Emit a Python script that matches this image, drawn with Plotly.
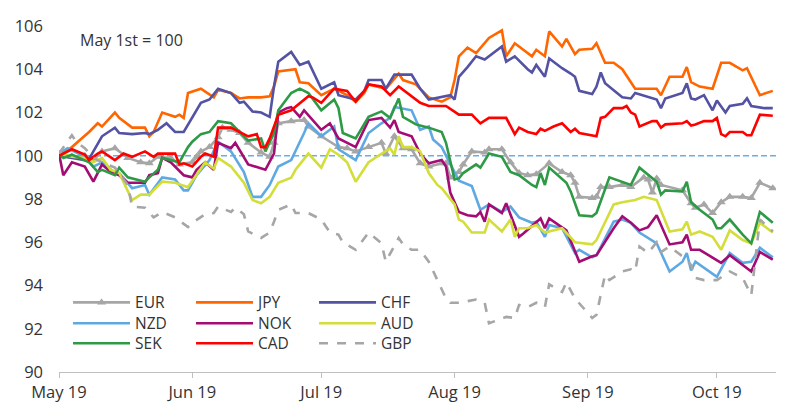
import pandas as pd
import plotly.graph_objects as go

# days since 1 May 2019, index level (May 1st = 100)
START = pd.Timestamp("2019-05-01")

EUR = [(0, 100.1), (3, 99.95), (6, 100.0), (8, 99.8), (10, 100.2), (13, 100.35), (16, 99.9), (19, 99.7),
       (21, 99.65), (23, 99.95), (26, 99.9), (28, 99.6), (31, 99.7), (32, 99.95), (33, 100.2), (35, 100.4),
       (37, 100.85), (38, 101.3), (40, 101.2), (42, 101.05), (44, 100.6), (47, 100.15), (49, 99.95),
       (50, 100.6), (51, 101.5), (54, 101.6), (57, 101.65), (58, 101.35), (61, 100.9), (65, 100.4),
       (67, 100.35), (69, 100.2), (72, 100.4), (75, 100.6), (76, 100.1), (78, 100.9), (80, 100.35),
       (82, 100.3), (84, 99.65), (86, 99.5), (89, 99.65), (90, 99.65), (91, 99.0), (93, 99.25), (94, 99.6),
       (96, 100.2), (99, 100.15), (100, 100.3), (103, 100.3), (105, 99.7), (107, 99.2), (109, 99.1),
       (111, 99.15), (114, 99.65), (117, 99.25), (119, 99.1), (120, 98.75), (121, 98.1), (124, 98.05),
       (125, 98.1), (126, 98.55), (128, 98.55), (131, 98.65), (133, 98.55), (136, 99.0), (137, 98.9),
       (138, 98.3), (139, 98.95), (140, 98.65), (145, 98.4), (147, 97.8), (148, 97.6), (150, 97.75),
       (152, 97.35), (154, 97.85), (156, 98.1), (159, 98.1), (161, 98.05), (163, 98.75), (166, 98.5)]

JPY = [(0, 100.0), (3, 100.4), (5, 100.75), (7, 101.1), (9, 101.5), (10, 101.35), (13, 102.0), (14, 101.75),
       (17, 101.3), (20, 101.3), (21, 100.9), (22, 101.1), (24, 102.0), (27, 101.8), (28, 101.9), (29, 101.75),
       (30, 102.9), (33, 103.1), (36, 102.7), (37, 103.05), (40, 102.9), (42, 102.65), (44, 102.7),
       (47, 102.7), (49, 102.75), (50, 103.2), (51, 103.9), (55, 104.0), (56, 103.4), (58, 103.35),
       (61, 102.8), (64, 103.1), (67, 102.8), (69, 102.5), (71, 102.9), (72, 103.3), (76, 103.1), (79, 103.8),
       (80, 103.5), (83, 103.3), (86, 102.7), (89, 102.5), (91, 102.7), (92, 103.5), (93, 104.6), (95, 105.0),
       (97, 104.75), (100, 105.45), (103, 105.8), (104, 104.6), (106, 105.2), (109, 104.75), (110, 104.6),
       (111, 104.9), (113, 104.6), (114, 105.75), (117, 105.05), (118, 105.4), (120, 104.7), (121, 104.9),
       (124, 104.95), (125, 105.2), (127, 104.3), (129, 104.3), (131, 104.0), (134, 103.1), (139, 103.1),
       (140, 102.8), (142, 103.65), (145, 103.65), (146, 104.1), (147, 103.4), (149, 103.2), (152, 103.1),
       (154, 104.3), (156, 104.3), (159, 103.95), (160, 104.05), (163, 102.8), (166, 103.0)]

CHF = [(0, 100.0), (3, 99.9), (6, 99.8), (7, 99.85), (10, 100.9), (13, 101.3), (14, 101.05), (17, 101.0),
       (20, 101.05), (21, 101.0), (23, 101.2), (25, 101.5), (27, 101.1), (29, 101.1), (31, 101.8), (33, 102.45),
       (35, 102.6), (37, 103.1), (40, 102.9), (42, 102.45), (43, 102.5), (45, 102.05), (47, 102.0),
       (48, 101.9), (49, 101.8), (50, 103.2), (51, 104.35), (54, 104.8), (56, 104.2), (58, 104.35),
       (61, 103.1), (64, 103.4), (65, 102.8), (69, 102.6), (71, 103.0), (72, 103.5), (75, 103.5), (76, 103.1),
       (78, 103.75), (82, 103.75), (84, 103.1), (86, 102.6), (89, 102.7), (91, 102.8), (92, 102.6),
       (93, 103.65), (95, 104.1), (97, 104.6), (99, 104.45), (103, 105.05), (104, 104.35), (106, 104.6),
       (109, 104.0), (110, 103.85), (111, 104.2), (113, 103.65), (114, 104.5), (117, 104.05), (119, 103.8),
       (120, 103.65), (121, 103.0), (124, 102.85), (125, 103.2), (126, 103.85), (127, 103.35), (131, 102.7),
       (133, 102.65), (134, 102.9), (139, 102.6), (140, 102.2), (141, 102.65), (145, 102.9), (146, 103.35),
       (147, 102.65), (148, 102.6), (150, 102.8), (152, 102.1), (153, 102.55), (155, 102.0), (156, 102.3),
       (159, 102.4), (160, 102.65), (161, 102.3), (164, 102.2), (166, 102.2)]

NZD = [(0, 100.1), (2, 100.35), (6, 99.95), (8, 99.5), (10, 99.7), (13, 99.2), (14, 99.2), (17, 98.5),
       (20, 98.65), (21, 98.2), (24, 99.0), (27, 98.9), (29, 98.4), (30, 98.4), (32, 99.1), (35, 99.8),
       (37, 100.65), (40, 100.2), (43, 99.25), (45, 98.1), (47, 98.1), (49, 98.65), (51, 99.5), (54, 99.8),
       (57, 101.05), (58, 101.5), (61, 100.9), (64, 101.35), (65, 100.3), (69, 99.8), (72, 101.05),
       (75, 101.5), (77, 101.75), (78, 102.25), (82, 102.1), (84, 101.2), (86, 101.35), (87, 100.75),
       (89, 100.4), (92, 99.2), (93, 98.85), (96, 98.6), (98, 97.5), (100, 97.75), (103, 97.4), (105, 97.65),
       (107, 97.15), (110, 96.9), (111, 96.95), (113, 96.25), (114, 96.8), (117, 96.65), (120, 95.5),
       (121, 95.65), (124, 95.3), (125, 95.4), (129, 96.95), (131, 97.05), (133, 96.9), (135, 96.45),
       (139, 95.95), (142, 94.65), (145, 95.1), (146, 95.5), (147, 94.7), (148, 95.1), (153, 94.4),
       (156, 95.5), (159, 95.05), (161, 95.1), (163, 95.75), (166, 95.3)]

NOK = [(0, 100.1), (1, 99.1), (3, 99.7), (6, 99.5), (8, 98.8), (10, 99.6), (12, 99.25), (14, 99.1),
       (16, 98.75), (20, 98.75), (21, 99.1), (23, 99.2), (24, 99.9), (26, 99.7), (29, 99.1), (31, 99.0),
       (32, 99.35), (34, 99.7), (36, 99.35), (37, 100.6), (40, 100.35), (41, 100.6), (44, 99.6), (48, 99.35),
       (50, 100.1), (51, 102.0), (53, 102.2), (54, 102.25), (56, 101.8), (57, 102.1), (61, 101.2),
       (63, 101.5), (65, 100.8), (69, 100.4), (72, 101.65), (75, 101.75), (77, 101.3), (78, 101.65),
       (79, 101.1), (82, 100.9), (84, 100.1), (86, 99.65), (89, 99.8), (90, 99.5), (91, 98.3), (92, 97.85),
       (93, 97.4), (95, 97.25), (97, 97.2), (98, 97.4), (99, 96.95), (100, 97.75), (103, 97.35), (104, 97.8),
       (107, 96.25), (108, 96.4), (110, 96.75), (111, 96.9), (112, 97.1), (113, 96.65), (114, 97.1),
       (118, 96.55), (121, 95.1), (124, 95.35), (125, 95.4), (129, 96.65), (131, 97.2), (133, 96.9),
       (135, 96.55), (137, 96.7), (139, 97.25), (142, 95.9), (145, 96.0), (146, 96.35), (147, 95.65),
       (149, 95.65), (152, 95.3), (154, 95.05), (156, 95.4), (159, 94.95), (161, 94.65), (163, 95.55),
       (166, 95.2)]

AUD = [(0, 100.1), (3, 99.95), (6, 99.9), (8, 99.7), (10, 99.9), (12, 99.35), (14, 99.2), (17, 97.95),
       (19, 98.2), (21, 98.2), (24, 98.8), (27, 98.75), (30, 98.55), (32, 99.1), (34, 99.7), (36, 99.4),
       (37, 99.9), (40, 99.5), (43, 98.75), (45, 97.95), (47, 97.8), (49, 98.1), (51, 98.75), (54, 98.98),
       (55, 99.35), (58, 100.1), (61, 99.45), (63, 100.3), (65, 100.05), (67, 99.7), (69, 98.8), (72, 99.7),
       (75, 100.1), (77, 100.35), (78, 100.05), (79, 100.9), (80, 100.4), (82, 100.4), (84, 100.2),
       (86, 99.2), (88, 98.65), (89, 98.5), (92, 97.75), (93, 97.05), (94, 96.95), (96, 96.45), (99, 96.45),
       (100, 97.05), (103, 96.5), (105, 97.05), (106, 96.25), (107, 96.65), (109, 96.65), (111, 96.8),
       (113, 96.45), (117, 96.65), (120, 96.0), (124, 95.9), (125, 96.1), (129, 97.75), (131, 97.85),
       (134, 97.95), (136, 98.1), (139, 97.95), (142, 96.5), (145, 96.6), (146, 96.95), (147, 96.35),
       (149, 96.5), (152, 96.25), (154, 95.65), (156, 96.55), (159, 96.1), (161, 95.95), (163, 96.9),
       (166, 96.45)]

SEK = [(0, 100.1), (1, 99.9), (3, 100.05), (6, 99.8), (7, 99.7), (9, 99.25), (10, 99.35), (13, 99.1),
       (14, 99.45), (16, 99.0), (20, 98.8), (21, 99.0), (23, 99.35), (24, 99.9), (26, 99.8), (28, 99.7),
       (30, 100.4), (31, 100.65), (33, 101.0), (35, 101.1), (37, 101.6), (40, 101.5), (42, 101.1),
       (43, 100.9), (44, 100.7), (47, 100.8), (48, 100.2), (50, 101.05), (51, 102.1), (54, 102.9),
       (56, 103.1), (58, 102.9), (61, 102.1), (64, 102.6), (65, 102.2), (66, 101.05), (69, 100.8),
       (72, 101.8), (75, 102.05), (77, 101.75), (79, 102.65), (80, 101.8), (83, 101.45), (86, 101.3),
       (89, 101.1), (90, 100.6), (92, 98.9), (93, 98.95), (94, 99.2), (97, 99.6), (98, 99.45), (100, 100.1),
       (103, 99.95), (105, 99.25), (107, 99.1), (110, 98.65), (111, 98.55), (112, 99.2), (113, 98.65),
       (114, 99.45), (118, 98.75), (119, 98.35), (121, 97.25), (124, 97.2), (125, 97.35), (128, 99.0),
       (131, 98.8), (133, 98.65), (135, 99.45), (139, 98.8), (140, 98.2), (141, 98.4), (145, 98.35),
       (146, 98.8), (147, 97.85), (149, 97.5), (152, 97.05), (153, 96.65), (154, 96.65), (156, 97.05),
       (159, 96.35), (161, 95.95), (163, 97.4), (166, 96.9)]

CAD = [(0, 100.0), (3, 100.3), (6, 100.05), (7, 99.8), (9, 100.1), (10, 100.2), (13, 99.8), (15, 100.1),
       (17, 99.95), (20, 100.2), (22, 99.95), (23, 100.1), (27, 100.1), (28, 99.6), (29, 99.65), (31, 99.5),
       (33, 99.95), (34, 100.1), (36, 99.95), (37, 101.3), (40, 101.3), (42, 101.1), (44, 100.9), (46, 101.0),
       (47, 100.4), (48, 100.4), (49, 100.8), (51, 101.9), (54, 102.1), (58, 102.75), (59, 102.7),
       (61, 102.45), (64, 103.1), (67, 103.0), (69, 102.5), (71, 103.0), (72, 103.3), (75, 103.2),
       (77, 102.8), (79, 103.2), (81, 102.9), (84, 102.45), (86, 102.3), (90, 102.3), (93, 101.9),
       (96, 101.9), (98, 101.5), (100, 101.75), (104, 101.75), (106, 101.0), (107, 101.3), (109, 101.1),
       (111, 101.0), (112, 101.25), (113, 101.15), (115, 101.35), (117, 101.5), (119, 101.1), (120, 101.25),
       (121, 101.05), (125, 100.9), (126, 101.75), (127, 101.8), (129, 102.2), (131, 102.2), (132, 102.3),
       (133, 102.0), (134, 101.9), (135, 101.35), (138, 101.6), (139, 101.6), (140, 101.3), (141, 101.45),
       (145, 101.5), (146, 101.6), (147, 101.4), (148, 101.45), (150, 101.6), (152, 101.6), (153, 101.75),
       (154, 101.0), (155, 100.9), (156, 101.1), (159, 101.1), (160, 100.95), (161, 100.95), (163, 101.9),
       (166, 101.85)]

GBP = [(0, 100.1), (3, 100.95), (4, 100.65), (6, 100.35), (8, 99.9), (10, 99.7), (13, 99.45), (16, 98.65),
       (17, 97.65), (20, 97.6), (22, 97.15), (24, 97.4), (27, 97.15), (30, 96.7), (31, 96.9), (34, 97.3),
       (36, 97.35), (37, 97.65), (40, 97.4), (41, 97.6), (43, 97.3), (44, 96.5), (47, 96.2), (49, 96.45),
       (50, 96.95), (51, 97.5), (54, 97.75), (55, 97.35), (58, 97.35), (61, 97.05), (63, 96.45), (65, 96.35),
       (66, 96.0), (69, 95.65), (72, 96.45), (75, 95.95), (76, 95.1), (79, 96.2), (80, 95.9), (82, 95.65),
       (84, 95.65), (86, 95.1), (88, 94.25), (90, 93.4), (91, 93.2), (93, 93.2), (97, 93.35), (99, 93.2),
       (100, 92.25), (104, 92.55), (106, 92.5), (107, 93.1), (109, 93.0), (111, 93.2), (113, 93.0),
       (114, 94.05), (117, 93.7), (118, 94.15), (120, 93.4), (124, 92.5), (125, 92.65), (127, 94.5),
       (128, 94.25), (131, 94.65), (133, 94.75), (134, 94.65), (135, 95.8), (137, 95.5), (139, 96.0),
       (140, 95.55), (142, 95.8), (145, 95.35), (147, 94.95), (148, 94.35), (150, 94.25), (153, 94.25),
       (156, 94.65), (159, 94.35), (161, 93.55), (163, 97.05), (166, 96.5)]

# name, data, colour, dash, legend row
SERIES = [
    ("EUR", EUR, "#a6a6a6", "solid", "legend"),
    ("JPY", JPY, "#ff6600", "solid", "legend"),
    ("CHF", CHF, "#5352a3", "solid", "legend"),
    ("NZD", NZD, "#5fa9e2", "solid", "legend2"),
    ("NOK", NOK, "#a30d73", "solid", "legend2"),
    ("AUD", AUD, "#d3de3a", "solid", "legend2"),
    ("SEK", SEK, "#2e9a46", "solid", "legend3"),
    ("CAD", CAD, "#ff0000", "solid", "legend3"),
    ("GBP", GBP, "#a6a6a6", "dash", "legend3"),
]

FONT = "Open Sans, Lato, sans-serif"
TXT = "#333333"

fig = go.Figure()
for name, pts, col, dash, leg in SERIES:
    days = [p[0] for p in pts]
    vals = [p[1] for p in pts]
    x = START + pd.to_timedelta(days, unit="D")
    tr = dict(x=x, y=vals, name=name, legend=leg,
              line=dict(color=col, width=2.6, dash=dash))
    if name == "EUR":
        tr.update(mode="lines+markers",
                  marker=dict(symbol="triangle-up", size=8, color=col))
    else:
        tr["mode"] = "lines"
    fig.add_trace(go.Scatter(**tr))

# May 1st reference line
fig.add_shape(type="line", xref="paper", x0=0, x1=1, yref="y", y0=100, y1=100,
              line=dict(color="#6aaee6", width=1.5, dash="6px,3px"), layer="below")

fig.add_annotation(text="May 1st = 100", xref="paper", yref="paper",
                   x=0.026, y=0.96, xanchor="left", yanchor="middle",
                   showarrow=False, font=dict(family=FONT, size=16, color=TXT))

leg_style = dict(orientation="h", xanchor="left", yanchor="top", x=0.0126,
                 bgcolor="rgba(0,0,0,0)", itemwidth=57,
                 entrywidth=51, entrywidthmode="pixels",
                 font=dict(family=FONT, size=15.5, color=TXT))

fig.update_layout(
    width=800, height=412,
    margin=dict(l=59, r=24, t=26, b=40),
    paper_bgcolor="white", plot_bgcolor="white",
    font=dict(family=FONT, size=16, color=TXT),
    showlegend=True,
    legend=dict(y=0.249, **leg_style),
    legend2=dict(y=0.189, **leg_style),
    legend3=dict(y=0.131, **leg_style),
    xaxis=dict(range=[START, START + pd.Timedelta(days=166.75)],
               tick0="2019-05-01", dtick="M1", tickformat="%b %y",
               showgrid=False, zeroline=False, showline=True, automargin=False,
               linecolor="#bfbfbf", linewidth=1, ticks="outside", ticklen=5,
               tickcolor="#bfbfbf", tickfont=dict(family=FONT, size=16.5, color=TXT)),
    yaxis=dict(range=[90, 106], dtick=2, showgrid=False, zeroline=False,
               showline=False, ticks="", ticklabelstandoff=15, automargin=False,
               tickfont=dict(family=FONT, size=16.5, color=TXT)),
)

# page body has a default 8px margin; remove it so the figure sits at 0,0
fig.write_html("out.html", config={"displayModeBar": False},
               post_script="document.body.style.margin='0';")
